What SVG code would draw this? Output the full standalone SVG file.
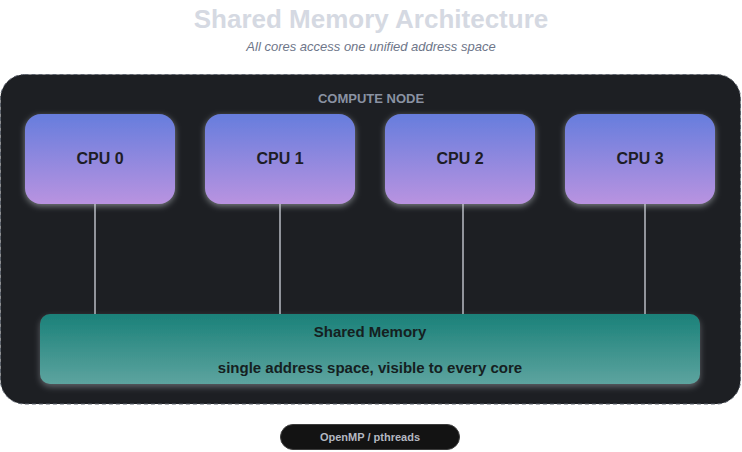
<svg xmlns="http://www.w3.org/2000/svg" width="742" height="452" viewBox="0 0 742 452">
<style>
.title{font-family:"Liberation Sans",Arial,sans-serif;font-weight:bold;font-size:26px;fill:#d5d9e2;text-anchor:middle}
.sub{font-family:"Liberation Sans",Arial,sans-serif;font-style:italic;font-size:13px;fill:#6e7689;text-anchor:middle}
.grp{font-family:"Liberation Sans",Arial,sans-serif;font-weight:bold;font-size:13px;fill:#8a92a2;text-anchor:middle}
.cpu{fill:url(#gCpu);filter:url(#glow)}
.cpuT{font-family:"Liberation Sans",Arial,sans-serif;font-weight:bold;font-size:16px;fill:#1d1d26;text-anchor:middle}
.memT{font-family:"Liberation Sans",Arial,sans-serif;font-weight:bold;font-size:15px;fill:#15201f;text-anchor:middle}
.pillT{font-family:"Liberation Sans",Arial,sans-serif;font-weight:bold;font-size:11px;fill:#b4b8c1;text-anchor:middle}
.conn line{stroke:#b9bdc4;stroke-width:1.5}
</style>
<defs>
<linearGradient id="gCpu" x1="0" y1="0" x2="0" y2="1">
<stop offset="0" stop-color="#667ddd"/>
<stop offset="1" stop-color="#b993e0"/>
</linearGradient>
<linearGradient id="gMem" x1="0" y1="0" x2="0" y2="1">
<stop offset="0" stop-color="#1a8179"/>
<stop offset="1" stop-color="#5da49f"/>
</linearGradient>
<filter id="glow" x="-20%" y="-20%" width="140%" height="150%">
<feDropShadow dx="0" dy="2" stdDeviation="3" flood-color="#c8ccd4" flood-opacity="0.55"/>
</filter>
<filter id="mshadow" x="-10%" y="-20%" width="120%" height="160%">
<feDropShadow dx="0" dy="3" stdDeviation="3" flood-color="#aab0b8" flood-opacity="0.45"/>
</filter>
</defs>
<rect width="742" height="452" fill="#ffffff"/>
<text class="title" x="371" y="28">Shared Memory Architecture</text>
<text class="sub" x="371" y="51">All cores access one unified address space</text>
<g id="compute-node">
<rect x="0.5" y="74.5" width="740" height="329.5" rx="24" fill="#1d1f23" stroke="#5c626c" stroke-width="1" stroke-dasharray="4 3"/>
<text class="grp" x="371" y="103">COMPUTE NODE</text>
</g>
<g class="conn" id="connectors">
<line x1="95" y1="204" x2="95" y2="314"/>
<line x1="280" y1="204" x2="280" y2="314"/>
<line x1="463" y1="204" x2="463" y2="314"/>
<line x1="645" y1="204" x2="645" y2="314"/>
</g>
<g id="cpu0"><rect class="cpu" x="25" y="114" width="150" height="90" rx="16"/><text class="cpuT" x="100" y="164">CPU 0</text></g>
<g id="cpu1"><rect class="cpu" x="205" y="114" width="150" height="90" rx="16"/><text class="cpuT" x="280" y="164">CPU 1</text></g>
<g id="cpu2"><rect class="cpu" x="385" y="114" width="150" height="90" rx="16"/><text class="cpuT" x="460" y="164">CPU 2</text></g>
<g id="cpu3"><rect class="cpu" x="565" y="114" width="150" height="90" rx="16"/><text class="cpuT" x="640" y="164">CPU 3</text></g>
<g id="shared-memory">
<rect x="40" y="314" width="660" height="70" rx="10" fill="url(#gMem)" filter="url(#mshadow)"/>
<text class="memT" x="370" y="337">Shared Memory</text>
<text class="memT" x="370" y="373">single address space, visible to every core</text>
</g>
<g id="openmp">
<rect x="280.5" y="424.5" width="179" height="25" rx="12.5" fill="#131313" stroke="#3c3c3c" stroke-width="1"/>
<text class="pillT" x="370" y="441">OpenMP / pthreads</text>
</g>
</svg>
